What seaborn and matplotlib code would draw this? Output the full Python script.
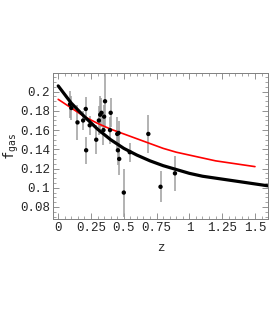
import numpy as np
import pandas as pd
import matplotlib
matplotlib.use("Agg")
from matplotlib import pyplot as plt
from matplotlib.ticker import MultipleLocator, FixedLocator
import seaborn as sns

# cluster gas fraction data
z_obs = [0.09, 0.10, 0.147, 0.19, 0.21, 0.213, 0.24, 0.29, 0.31, 0.32, 0.33, 0.35,
         0.357, 0.345, 0.40, 0.395, 0.45, 0.46, 0.455, 0.465, 0.50, 0.545, 0.687,
         0.78, 0.89]
f_obs = [0.187, 0.183, 0.168, 0.170, 0.182, 0.139, 0.165, 0.150, 0.170, 0.176, 0.178, 0.174,
         0.190, 0.160, 0.178, 0.160, 0.156, 0.157, 0.139, 0.130, 0.095, 0.137, 0.156,
         0.101, 0.115]
f_err = [0.014, 0.012, 0.018, 0.010, 0.012, 0.014, 0.010, 0.015, 0.015, 0.020, 0.015, 0.012,
         0.028, 0.015, 0.015, 0.014, 0.018, 0.012, 0.015, 0.017, 0.025, 0.010, 0.020,
         0.016, 0.018]

# model curves (thick black, thin red)
z_black = [0, 0.1, 0.2, 0.3, 0.4, 0.5, 0.6, 0.7, 0.8, 0.9, 1.0, 1.1, 1.2, 1.3, 1.4, 1.5, 1.6]
f_black = [0.206, 0.188, 0.174, 0.161, 0.150, 0.141, 0.134, 0.128, 0.123, 0.119, 0.115,
           0.112, 0.110, 0.108, 0.106, 0.104, 0.102]
z_red = [0, 0.1, 0.2, 0.3, 0.4, 0.5, 0.6, 0.7, 0.8, 0.9, 1.0, 1.1, 1.2, 1.3, 1.4, 1.5]
f_red = [0.192, 0.183, 0.174, 0.167, 0.161, 0.156, 0.151, 0.146, 0.141, 0.137, 0.134,
         0.131, 0.128, 0.126, 0.124, 0.122]

x_ticks = [0, 0.25, 0.5, 0.75, 1, 1.25, 1.5]
x_labels = ["0", "0.25", "0.5", "0.75", "1", "1.25", "1.5"]
y_ticks = [0.08, 0.1, 0.12, 0.14, 0.16, 0.18, 0.2]
y_labels = ["0.08", "0.1", "0.12", "0.14", "0.16", "0.18", "0.2"]

sns.set_style("ticks")
plt.rcParams['font.family'] = ['Liberation Mono', 'DejaVu Sans Mono']
plt.rcParams['font.size'] = 9

fig = plt.figure(figsize=(2.73, 3.27), dpi=100)
ax = fig.add_axes([0.194, 0.330, 0.788, 0.447])

obs = pd.DataFrame({"z": z_obs, "f": f_obs, "err": f_err})
ax.errorbar(obs["z"], obs["f"], yerr=obs["err"], fmt='none', ecolor='0.62',
            elinewidth=1.1, capsize=0, zorder=2)
sns.lineplot(x=z_red, y=f_red, color='red', linewidth=1.2, ax=ax, zorder=3)
sns.lineplot(x=z_black, y=f_black, color='black', linewidth=2.3, ax=ax, zorder=4)
sns.scatterplot(data=obs, x="z", y="f", color='black', s=10, edgecolor='none',
                ax=ax, zorder=5)

ax.set_xlim(-0.04, 1.6)
ax.set_ylim(0.0674, 0.2195)
ax.xaxis.set_major_locator(FixedLocator(x_ticks))
ax.set_xticklabels(x_labels)
ax.xaxis.set_minor_locator(MultipleLocator(0.05))
ax.yaxis.set_major_locator(FixedLocator(y_ticks))
ax.set_yticklabels(y_labels)
ax.yaxis.set_minor_locator(MultipleLocator(0.005))
ax.tick_params(which='both', direction='in', top=True, right=True, color='0.5',
               labelsize=9, pad=2)
ax.tick_params(which='major', length=4, width=0.6)
ax.tick_params(which='minor', length=2, width=0.5)
for sp in ax.spines.values():
    sp.set_color('0.5')
    sp.set_linewidth(0.7)

ax.set_xlabel("z", fontsize=9, labelpad=6)
ax.set_ylabel(r"$\mathtt{f}_{\mathtt{gas}}$", fontsize=10)
ax.yaxis.set_label_coords(-0.15, 0.5)

fig.savefig("out.png", dpi=100)
